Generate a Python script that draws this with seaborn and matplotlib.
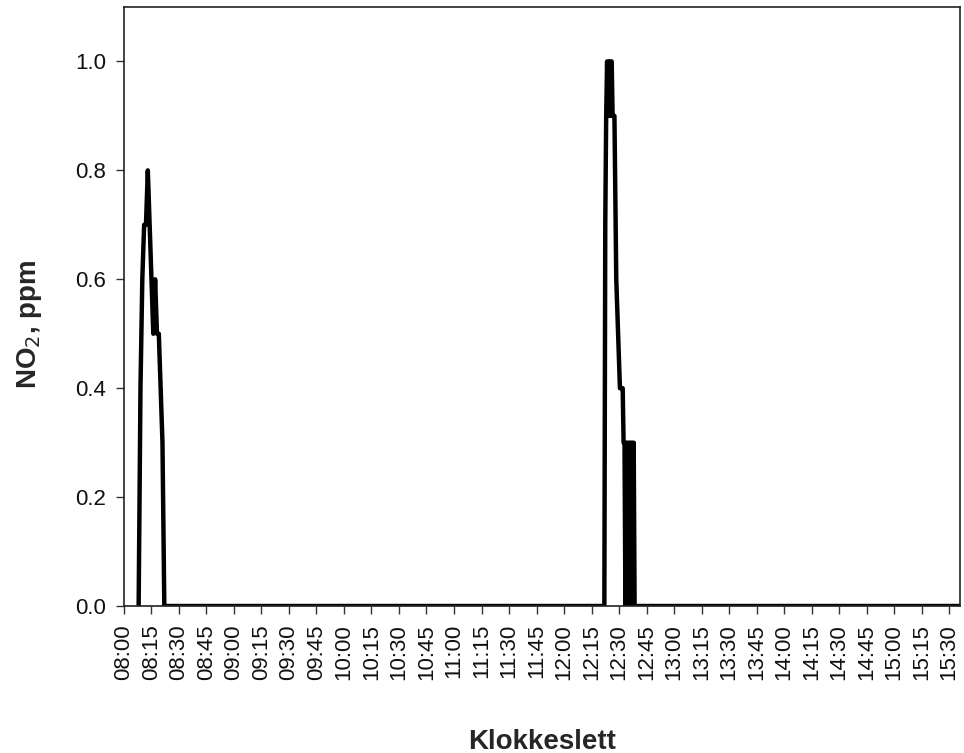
import pandas as pd
import matplotlib
matplotlib.use("Agg")
import matplotlib.pyplot as plt
import matplotlib.dates as mdates
import seaborn as sns

# NO2 readings (ppm); zero everywhere between the two episodes
times = [
    "08:08:00", "08:09:00", "08:10:00", "08:11:00", "08:12:00", "08:13:00",
    "08:14:00", "08:15:00", "08:16:00", "08:17:00", "08:18:00", "08:19:00",
    "08:20:00", "08:21:00", "08:22:00",
    "12:22:00", "12:22:30", "12:23:00", "12:23:30", "12:24:00", "12:24:30",
    "12:25:00", "12:25:30", "12:26:00", "12:26:30", "12:27:30", "12:27:50",
    "12:28:10", "12:28:30", "12:29:30", "12:30:30", "12:32:00", "12:32:30",
    "12:33:00", "12:33:30", "12:34:00", "12:34:30", "12:35:00", "12:35:30",
    "12:36:00", "12:36:30", "12:37:00", "12:37:30", "12:38:00", "12:38:30",
    "15:40:00",
]
no2 = [
    0.0, 0.4, 0.6, 0.7, 0.7, 0.8,
    0.7, 0.6, 0.5, 0.6, 0.5, 0.5,
    0.4, 0.3, 0.0,
    0.0, 0.7, 0.9, 1.0, 0.9, 1.0,
    0.9, 1.0, 1.0, 0.9, 0.9, 0.8,
    0.7, 0.6, 0.5, 0.4, 0.4, 0.3,
    0.3, 0.0, 0.3, 0.0, 0.3, 0.0,
    0.3, 0.0, 0.3, 0.0, 0.3, 0.0,
    0.0,
]

day = "2020-01-01 "
df = pd.DataFrame({"tid": pd.to_datetime([day + t for t in times]), "no2": no2})

sns.set_style("ticks")
plt.rcParams["font.family"] = ["Liberation Sans", "DejaVu Sans"]

fig = plt.figure(figsize=(9.64, 7.53), dpi=100)
ax = fig.add_axes([0.1286, 0.1952, 0.8673, 0.7955])

sns.lineplot(data=df, x="tid", y="no2", ax=ax, color="black", linewidth=3.2,
             estimator=None, sort=False)

ax.set_xlim(pd.Timestamp(day + "08:00"), pd.Timestamp(day + "15:36"))
ax.set_ylim(0, 1.1)
ax.set_yticks([0.0, 0.2, 0.4, 0.6, 0.8, 1.0])
ax.yaxis.set_major_formatter(matplotlib.ticker.FormatStrFormatter("%.1f"))
ax.xaxis.set_major_locator(mdates.MinuteLocator(byminute=[0, 15, 30, 45]))
ax.xaxis.set_major_formatter(mdates.DateFormatter("%H:%M"))

ax.tick_params(axis="both", direction="out", length=6, width=1, color="#333333",
               labelsize=16, labelcolor="#111111")
ax.tick_params(axis="x", labelrotation=90, pad=7)
ax.tick_params(axis="y", pad=7)

for side in ["left", "right", "top", "bottom"]:
    ax.spines[side].set_visible(True)
    ax.spines[side].set_linewidth(1.2)
    ax.spines[side].set_color("#222222")

ax.set_xlabel("Klokkeslett", fontsize=20, fontweight="bold")
ax.set_ylabel("NO$_2$, ppm", fontsize=20, fontweight="bold")
ax.xaxis.set_label_coords(0.5, -0.205)
ax.yaxis.set_label_coords(-0.096, 0.47)

fig.savefig("out.png", dpi=100)
